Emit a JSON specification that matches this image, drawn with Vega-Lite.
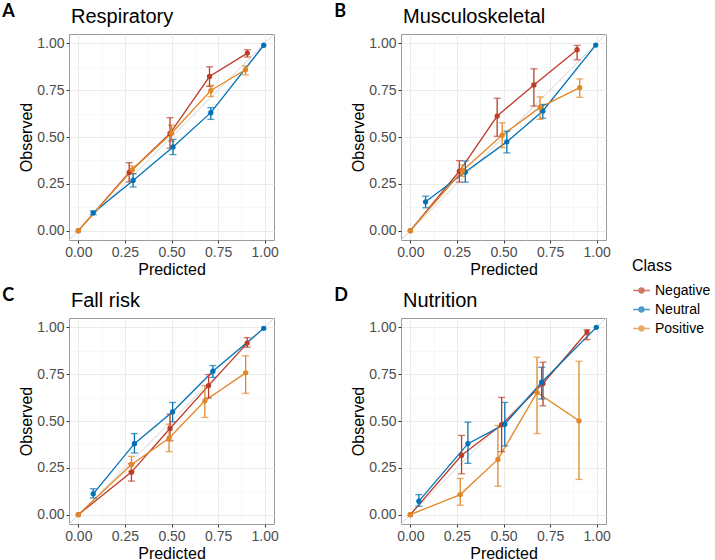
{
  "$schema": "https://vega.github.io/schema/vega-lite/v6.json",
  "background": "white",
  "padding": {"left": 2, "top": 2, "right": 0, "bottom": 0},
  "datasets": {
    "calib": [
      {"panel": "Respiratory", "Class": "Negative", "x": 0, "y": 0, "lo": null, "hi": null},
      {"panel": "Respiratory", "Class": "Negative", "x": 0.273, "y": 0.311, "lo": 0.26, "hi": 0.363},
      {"panel": "Respiratory", "Class": "Negative", "x": 0.492, "y": 0.519, "lo": 0.44, "hi": 0.603},
      {"panel": "Respiratory", "Class": "Negative", "x": 0.704, "y": 0.823, "lo": 0.77, "hi": 0.875},
      {"panel": "Respiratory", "Class": "Negative", "x": 0.907, "y": 0.948, "lo": 0.927, "hi": 0.966},
      {"panel": "Respiratory", "Class": "Neutral", "x": 0.08, "y": 0.095, "lo": 0.085, "hi": 0.105},
      {"panel": "Respiratory", "Class": "Neutral", "x": 0.294, "y": 0.268, "lo": 0.233, "hi": 0.304},
      {"panel": "Respiratory", "Class": "Neutral", "x": 0.508, "y": 0.447, "lo": 0.406, "hi": 0.487},
      {"panel": "Respiratory", "Class": "Neutral", "x": 0.711, "y": 0.63, "lo": 0.594, "hi": 0.657},
      {"panel": "Respiratory", "Class": "Neutral", "x": 0.995, "y": 0.99, "lo": null, "hi": null},
      {"panel": "Respiratory", "Class": "Positive", "x": 0, "y": 0, "lo": null, "hi": null},
      {"panel": "Respiratory", "Class": "Positive", "x": 0.29, "y": 0.325, "lo": 0.305, "hi": 0.345},
      {"panel": "Respiratory", "Class": "Positive", "x": 0.5, "y": 0.52, "lo": 0.477, "hi": 0.563},
      {"panel": "Respiratory", "Class": "Positive", "x": 0.711, "y": 0.748, "lo": 0.716, "hi": 0.776},
      {"panel": "Respiratory", "Class": "Positive", "x": 0.897, "y": 0.859, "lo": 0.832, "hi": 0.88},

      {"panel": "Musculoskeletal", "Class": "Negative", "x": 0, "y": 0, "lo": null, "hi": null},
      {"panel": "Musculoskeletal", "Class": "Negative", "x": 0.263, "y": 0.317, "lo": 0.259, "hi": 0.374},
      {"panel": "Musculoskeletal", "Class": "Negative", "x": 0.466, "y": 0.612, "lo": 0.504, "hi": 0.707},
      {"panel": "Musculoskeletal", "Class": "Negative", "x": 0.663, "y": 0.778, "lo": 0.665, "hi": 0.864},
      {"panel": "Musculoskeletal", "Class": "Negative", "x": 0.895, "y": 0.966, "lo": 0.912, "hi": 0.989},
      {"panel": "Musculoskeletal", "Class": "Neutral", "x": 0.082, "y": 0.154, "lo": 0.122, "hi": 0.184},
      {"panel": "Musculoskeletal", "Class": "Neutral", "x": 0.295, "y": 0.313, "lo": 0.259, "hi": 0.372},
      {"panel": "Musculoskeletal", "Class": "Neutral", "x": 0.518, "y": 0.474, "lo": 0.415, "hi": 0.531},
      {"panel": "Musculoskeletal", "Class": "Neutral", "x": 0.711, "y": 0.639, "lo": 0.6, "hi": 0.674},
      {"panel": "Musculoskeletal", "Class": "Neutral", "x": 0.995, "y": 0.991, "lo": null, "hi": null},
      {"panel": "Musculoskeletal", "Class": "Positive", "x": 0, "y": 0, "lo": null, "hi": null},
      {"panel": "Musculoskeletal", "Class": "Positive", "x": 0.28, "y": 0.32, "lo": 0.29, "hi": 0.35},
      {"panel": "Musculoskeletal", "Class": "Positive", "x": 0.493, "y": 0.51, "lo": 0.444, "hi": 0.576},
      {"panel": "Musculoskeletal", "Class": "Positive", "x": 0.696, "y": 0.658, "lo": 0.594, "hi": 0.714},
      {"panel": "Musculoskeletal", "Class": "Positive", "x": 0.909, "y": 0.764, "lo": 0.712, "hi": 0.81},

      {"panel": "Fall risk", "Class": "Negative", "x": 0, "y": 0, "lo": null, "hi": null},
      {"panel": "Fall risk", "Class": "Negative", "x": 0.285, "y": 0.227, "lo": 0.179, "hi": 0.272},
      {"panel": "Fall risk", "Class": "Negative", "x": 0.492, "y": 0.46, "lo": 0.394, "hi": 0.537},
      {"panel": "Fall risk", "Class": "Negative", "x": 0.699, "y": 0.689, "lo": 0.623, "hi": 0.748},
      {"panel": "Fall risk", "Class": "Negative", "x": 0.906, "y": 0.916, "lo": 0.894, "hi": 0.945},
      {"panel": "Fall risk", "Class": "Neutral", "x": 0.08, "y": 0.111, "lo": 0.089, "hi": 0.138},
      {"panel": "Fall risk", "Class": "Neutral", "x": 0.301, "y": 0.379, "lo": 0.329, "hi": 0.433},
      {"panel": "Fall risk", "Class": "Neutral", "x": 0.506, "y": 0.549, "lo": 0.496, "hi": 0.599},
      {"panel": "Fall risk", "Class": "Neutral", "x": 0.722, "y": 0.766, "lo": 0.733, "hi": 0.796},
      {"panel": "Fall risk", "Class": "Neutral", "x": 0.995, "y": 0.995, "lo": null, "hi": null},
      {"panel": "Fall risk", "Class": "Positive", "x": 0, "y": 0, "lo": null, "hi": null},
      {"panel": "Fall risk", "Class": "Positive", "x": 0.285, "y": 0.268, "lo": 0.23, "hi": 0.311},
      {"panel": "Fall risk", "Class": "Positive", "x": 0.487, "y": 0.408, "lo": 0.336, "hi": 0.483},
      {"panel": "Fall risk", "Class": "Positive", "x": 0.679, "y": 0.608, "lo": 0.519, "hi": 0.689},
      {"panel": "Fall risk", "Class": "Positive", "x": 0.898, "y": 0.757, "lo": 0.648, "hi": 0.848},

      {"panel": "Nutrition", "Class": "Negative", "x": 0, "y": 0, "lo": null, "hi": null},
      {"panel": "Nutrition", "Class": "Negative", "x": 0.275, "y": 0.317, "lo": 0.218, "hi": 0.423},
      {"panel": "Nutrition", "Class": "Negative", "x": 0.49, "y": 0.48, "lo": 0.336, "hi": 0.626},
      {"panel": "Nutrition", "Class": "Negative", "x": 0.712, "y": 0.7, "lo": 0.581, "hi": 0.814},
      {"panel": "Nutrition", "Class": "Negative", "x": 0.948, "y": 0.975, "lo": 0.934, "hi": 0.987},
      {"panel": "Nutrition", "Class": "Neutral", "x": 0.046, "y": 0.072, "lo": 0.045, "hi": 0.107},
      {"panel": "Nutrition", "Class": "Neutral", "x": 0.309, "y": 0.379, "lo": 0.274, "hi": 0.494},
      {"panel": "Nutrition", "Class": "Neutral", "x": 0.507, "y": 0.483, "lo": 0.367, "hi": 0.599},
      {"panel": "Nutrition", "Class": "Neutral", "x": 0.705, "y": 0.707, "lo": 0.617, "hi": 0.787},
      {"panel": "Nutrition", "Class": "Neutral", "x": 0.998, "y": 1.0, "lo": null, "hi": null},
      {"panel": "Nutrition", "Class": "Positive", "x": 0, "y": 0, "lo": null, "hi": null},
      {"panel": "Nutrition", "Class": "Positive", "x": 0.268, "y": 0.107, "lo": 0.05, "hi": 0.193},
      {"panel": "Nutrition", "Class": "Positive", "x": 0.47, "y": 0.295, "lo": 0.152, "hi": 0.476},
      {"panel": "Nutrition", "Class": "Positive", "x": 0.68, "y": 0.653, "lo": 0.433, "hi": 0.841},
      {"panel": "Nutrition", "Class": "Positive", "x": 0.905, "y": 0.501, "lo": 0.188, "hi": 0.819}
    ],
    "diag": [{"x": -0.05, "y": -0.05}, {"x": 1.05, "y": 1.05}]
  },
  "spacing": 8,
  "vconcat": [
    {
      "spacing": 55,
      "hconcat": [
        {
          "title": {"text": "A", "anchor": "start", "frame": "bounds", "font": "Lato", "fontSize": 18, "fontWeight": "bold", "color": "black", "offset": -14, "dx": -16},
          "vconcat": [{
            "width": 205, "height": 206,
            "title": {"text": "Respiratory", "anchor": "start", "frame": "group", "fontSize": 20, "fontWeight": "normal", "color": "black", "offset": 5, "dx": 2},
            "data": {"name": "calib"},
            "encoding": {
              "x": {"field": "x", "type": "quantitative", "scale": {"domain": [-0.05, 1.05], "nice": false, "zero": false},
                "axis": {"title": "Predicted", "values": [0, 0.125, 0.25, 0.375, 0.5, 0.625, 0.75, 0.875, 1], "labelExpr": "(datum.value*4)%1==0 ? format(datum.value,'.2f') : ''",
                  "tickOpacity": {"condition": {"test": "(datum.value*4)%1==0", "value": 1}, "value": 0},
                  "gridColor": {"condition": {"test": "(datum.value*4)%1==0", "value": "#EBEBEB"}, "value": "#F4F4F4"},
                  "gridWidth": {"condition": {"test": "(datum.value*4)%1==0", "value": 1}, "value": 0.6}}},
              "y": {"field": "y", "type": "quantitative", "scale": {"domain": [-0.05, 1.05], "nice": false, "zero": false},
                "axis": {"title": "Observed", "values": [0, 0.125, 0.25, 0.375, 0.5, 0.625, 0.75, 0.875, 1], "labelExpr": "(datum.value*4)%1==0 ? format(datum.value,'.2f') : ''",
                  "tickOpacity": {"condition": {"test": "(datum.value*4)%1==0", "value": 1}, "value": 0},
                  "gridColor": {"condition": {"test": "(datum.value*4)%1==0", "value": "#EBEBEB"}, "value": "#F4F4F4"},
                  "gridWidth": {"condition": {"test": "(datum.value*4)%1==0", "value": 1}, "value": 0.6}}}
            },
            "layer": [
              {"data": {"name": "diag"}, "mark": {"type": "line", "color": "#D4D4D4", "strokeWidth": 1}},
              {"transform": [{"filter": "datum.panel == 'Respiratory'"}], "mark": {"type": "line", "strokeWidth": 1.3},
                "encoding": {"color": {"field": "Class", "type": "nominal", "scale": {"domain": ["Negative", "Neutral", "Positive"], "range": ["#BC3C29", "#0072B5", "#E18727"]}}}},
              {"transform": [{"filter": "datum.panel == 'Respiratory' && isValid(datum.lo)"}], "mark": {"type": "errorbar", "ticks": {"size": 7}, "thickness": 1.3},
                "encoding": {"y": {"field": "lo", "type": "quantitative"}, "y2": {"field": "hi"}, "color": {"field": "Class", "type": "nominal"}}},
              {"transform": [{"filter": "datum.panel == 'Respiratory'"}], "mark": {"type": "point", "filled": true, "size": 28, "opacity": 1},
                "encoding": {"color": {"field": "Class", "type": "nominal"}}}
            ]
          }]
        },
        {
          "title": {"text": "B", "anchor": "start", "frame": "bounds", "font": "Lato", "fontSize": 18, "fontWeight": "bold", "color": "black", "offset": -14, "dx": -16},
          "vconcat": [{
            "width": 205, "height": 206,
            "title": {"text": "Musculoskeletal", "anchor": "start", "frame": "group", "fontSize": 20, "fontWeight": "normal", "color": "black", "offset": 5, "dx": 2},
            "data": {"name": "calib"},
            "encoding": {
              "x": {"field": "x", "type": "quantitative", "scale": {"domain": [-0.05, 1.05], "nice": false, "zero": false},
                "axis": {"title": "Predicted", "values": [0, 0.125, 0.25, 0.375, 0.5, 0.625, 0.75, 0.875, 1], "labelExpr": "(datum.value*4)%1==0 ? format(datum.value,'.2f') : ''",
                  "tickOpacity": {"condition": {"test": "(datum.value*4)%1==0", "value": 1}, "value": 0},
                  "gridColor": {"condition": {"test": "(datum.value*4)%1==0", "value": "#EBEBEB"}, "value": "#F4F4F4"},
                  "gridWidth": {"condition": {"test": "(datum.value*4)%1==0", "value": 1}, "value": 0.6}}},
              "y": {"field": "y", "type": "quantitative", "scale": {"domain": [-0.05, 1.05], "nice": false, "zero": false},
                "axis": {"title": "Observed", "values": [0, 0.125, 0.25, 0.375, 0.5, 0.625, 0.75, 0.875, 1], "labelExpr": "(datum.value*4)%1==0 ? format(datum.value,'.2f') : ''",
                  "tickOpacity": {"condition": {"test": "(datum.value*4)%1==0", "value": 1}, "value": 0},
                  "gridColor": {"condition": {"test": "(datum.value*4)%1==0", "value": "#EBEBEB"}, "value": "#F4F4F4"},
                  "gridWidth": {"condition": {"test": "(datum.value*4)%1==0", "value": 1}, "value": 0.6}}}
            },
            "layer": [
              {"data": {"name": "diag"}, "mark": {"type": "line", "color": "#D4D4D4", "strokeWidth": 1}},
              {"transform": [{"filter": "datum.panel == 'Musculoskeletal'"}], "mark": {"type": "line", "strokeWidth": 1.3},
                "encoding": {"color": {"field": "Class", "type": "nominal"}}},
              {"transform": [{"filter": "datum.panel == 'Musculoskeletal' && isValid(datum.lo)"}], "mark": {"type": "errorbar", "ticks": {"size": 7}, "thickness": 1.3},
                "encoding": {"y": {"field": "lo", "type": "quantitative"}, "y2": {"field": "hi"}, "color": {"field": "Class", "type": "nominal"}}},
              {"transform": [{"filter": "datum.panel == 'Musculoskeletal'"}], "mark": {"type": "point", "filled": true, "size": 28, "opacity": 1},
                "encoding": {"color": {"field": "Class", "type": "nominal"}}}
            ]
          }]
        }
      ]
    },
    {
      "spacing": 55,
      "hconcat": [
        {
          "title": {"text": "C", "anchor": "start", "frame": "bounds", "font": "Lato", "fontSize": 18, "fontWeight": "bold", "color": "black", "offset": -14, "dx": -16},
          "vconcat": [{
            "width": 205, "height": 206,
            "title": {"text": "Fall risk", "anchor": "start", "frame": "group", "fontSize": 20, "fontWeight": "normal", "color": "black", "offset": 5, "dx": 2},
            "data": {"name": "calib"},
            "encoding": {
              "x": {"field": "x", "type": "quantitative", "scale": {"domain": [-0.05, 1.05], "nice": false, "zero": false},
                "axis": {"title": "Predicted", "values": [0, 0.125, 0.25, 0.375, 0.5, 0.625, 0.75, 0.875, 1], "labelExpr": "(datum.value*4)%1==0 ? format(datum.value,'.2f') : ''",
                  "tickOpacity": {"condition": {"test": "(datum.value*4)%1==0", "value": 1}, "value": 0},
                  "gridColor": {"condition": {"test": "(datum.value*4)%1==0", "value": "#EBEBEB"}, "value": "#F4F4F4"},
                  "gridWidth": {"condition": {"test": "(datum.value*4)%1==0", "value": 1}, "value": 0.6}}},
              "y": {"field": "y", "type": "quantitative", "scale": {"domain": [-0.05, 1.05], "nice": false, "zero": false},
                "axis": {"title": "Observed", "values": [0, 0.125, 0.25, 0.375, 0.5, 0.625, 0.75, 0.875, 1], "labelExpr": "(datum.value*4)%1==0 ? format(datum.value,'.2f') : ''",
                  "tickOpacity": {"condition": {"test": "(datum.value*4)%1==0", "value": 1}, "value": 0},
                  "gridColor": {"condition": {"test": "(datum.value*4)%1==0", "value": "#EBEBEB"}, "value": "#F4F4F4"},
                  "gridWidth": {"condition": {"test": "(datum.value*4)%1==0", "value": 1}, "value": 0.6}}}
            },
            "layer": [
              {"data": {"name": "diag"}, "mark": {"type": "line", "color": "#D4D4D4", "strokeWidth": 1}},
              {"transform": [{"filter": "datum.panel == 'Fall risk'"}], "mark": {"type": "line", "strokeWidth": 1.3},
                "encoding": {"color": {"field": "Class", "type": "nominal"}}},
              {"transform": [{"filter": "datum.panel == 'Fall risk' && isValid(datum.lo)"}], "mark": {"type": "errorbar", "ticks": {"size": 7}, "thickness": 1.3},
                "encoding": {"y": {"field": "lo", "type": "quantitative"}, "y2": {"field": "hi"}, "color": {"field": "Class", "type": "nominal"}}},
              {"transform": [{"filter": "datum.panel == 'Fall risk'"}], "mark": {"type": "point", "filled": true, "size": 28, "opacity": 1},
                "encoding": {"color": {"field": "Class", "type": "nominal"}}}
            ]
          }]
        },
        {
          "title": {"text": "D", "anchor": "start", "frame": "bounds", "font": "Lato", "fontSize": 18, "fontWeight": "bold", "color": "black", "offset": -14, "dx": -16},
          "vconcat": [{
            "width": 205, "height": 206,
            "title": {"text": "Nutrition", "anchor": "start", "frame": "group", "fontSize": 20, "fontWeight": "normal", "color": "black", "offset": 5, "dx": 2},
            "data": {"name": "calib"},
            "encoding": {
              "x": {"field": "x", "type": "quantitative", "scale": {"domain": [-0.05, 1.05], "nice": false, "zero": false},
                "axis": {"title": "Predicted", "values": [0, 0.125, 0.25, 0.375, 0.5, 0.625, 0.75, 0.875, 1], "labelExpr": "(datum.value*4)%1==0 ? format(datum.value,'.2f') : ''",
                  "tickOpacity": {"condition": {"test": "(datum.value*4)%1==0", "value": 1}, "value": 0},
                  "gridColor": {"condition": {"test": "(datum.value*4)%1==0", "value": "#EBEBEB"}, "value": "#F4F4F4"},
                  "gridWidth": {"condition": {"test": "(datum.value*4)%1==0", "value": 1}, "value": 0.6}}},
              "y": {"field": "y", "type": "quantitative", "scale": {"domain": [-0.05, 1.05], "nice": false, "zero": false},
                "axis": {"title": "Observed", "values": [0, 0.125, 0.25, 0.375, 0.5, 0.625, 0.75, 0.875, 1], "labelExpr": "(datum.value*4)%1==0 ? format(datum.value,'.2f') : ''",
                  "tickOpacity": {"condition": {"test": "(datum.value*4)%1==0", "value": 1}, "value": 0},
                  "gridColor": {"condition": {"test": "(datum.value*4)%1==0", "value": "#EBEBEB"}, "value": "#F4F4F4"},
                  "gridWidth": {"condition": {"test": "(datum.value*4)%1==0", "value": 1}, "value": 0.6}}}
            },
            "layer": [
              {"data": {"name": "diag"}, "mark": {"type": "line", "color": "#D4D4D4", "strokeWidth": 1}},
              {"transform": [{"filter": "datum.panel == 'Nutrition'"}], "mark": {"type": "line", "strokeWidth": 1.3},
                "encoding": {"color": {"field": "Class", "type": "nominal"}}},
              {"transform": [{"filter": "datum.panel == 'Nutrition' && isValid(datum.lo)"}], "mark": {"type": "errorbar", "ticks": {"size": 7}, "thickness": 1.3},
                "encoding": {"y": {"field": "lo", "type": "quantitative"}, "y2": {"field": "hi"}, "color": {"field": "Class", "type": "nominal"}}},
              {"transform": [{"filter": "datum.panel == 'Nutrition'"}], "mark": {"type": "point", "filled": true, "size": 28, "opacity": 1},
                "encoding": {"color": {"field": "Class", "type": "nominal", "legend": {"orient": "none", "legendX": 563, "legendY": 224, "title": "Class", "symbolType": "M-1,0H1M0.3,0A0.3,0.3,0,1,1,-0.3,0A0.3,0.3,0,1,1,0.3,0Z", "symbolSize": 280, "symbolStrokeWidth": 1.3, "symbolOpacity": 1}}}}
            ]
          }]
        }
      ]
    }
  ],
  "config": {
    "font": "Liberation Sans",
    "view": {"stroke": "#9A9A9A", "strokeWidth": 1},
    "axis": {"domain": false, "tickColor": "#333333", "tickSize": 3, "labelFont": "Liberation Sans", "labelFontSize": 14, "labelColor": "#4D4D4D", "labelPadding": 2, "titleFont": "Liberation Sans", "titleFontSize": 16, "titleFontWeight": "normal", "titleColor": "black", "titlePadding": 2, "labelFlush": false, "labelOverlap": false},
    "title": {"font": "Liberation Sans"},
    "legend": {"titleFont": "Liberation Sans", "titleFontSize": 16, "titleFontWeight": "normal", "titleColor": "black", "labelFont": "Liberation Sans", "labelFontSize": 14, "labelColor": "black", "rowPadding": 2, "titlePadding": 7}
  }
}
